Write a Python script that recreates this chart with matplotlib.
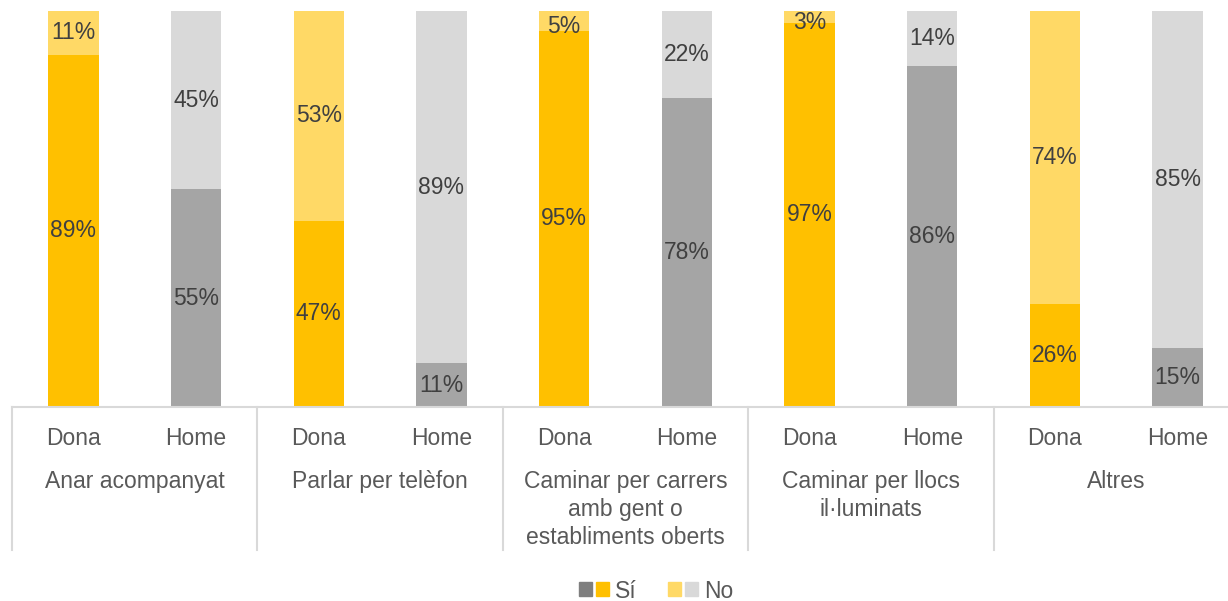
import matplotlib.pyplot as plt
from matplotlib.patches import Patch
from matplotlib.legend_handler import HandlerTuple
import numpy as np

plt.rcParams['font.family'] = ['Liberation Sans', 'DejaVu Sans']

groups = ["Anar acompanyat", "Parlar per telèfon",
          "Caminar per carrers\namb gent o\nestabliments oberts",
          "Caminar per llocs\nil·luminats", "Altres"]
sexes = ["Dona", "Home"]
si_dona = [89, 47, 95, 97, 26]
no_dona = [11, 53, 5, 3, 74]
si_home = [55, 11, 78, 86, 15]
no_home = [45, 89, 22, 14, 85]

c_si_dona, c_no_dona = "#FFC000", "#FFD966"
c_si_home, c_no_home = "#A5A5A5", "#D9D9D9"
txt = "#595959"
fs = 16.5

fig = plt.figure(figsize=(12.28, 6.01), dpi=100)
W, H = 1228, 601
ax = fig.add_axes([12 / W, (H - 407) / H, 1227 / W, 396 / H])

xd = np.arange(5) * 2
xh = xd + 1
bw = 0.41
ax.bar(xd, si_dona, bw, color=c_si_dona)
ax.bar(xd, no_dona, bw, bottom=si_dona, color=c_no_dona)
ax.bar(xh, si_home, bw, color=c_si_home)
ax.bar(xh, no_home, bw, bottom=si_home, color=c_no_home)

# data labels in the middle of each segment (tiny ones nudged down a bit)
for xs, a, b in [(xd, si_dona, no_dona), (xh, si_home, no_home)]:
    for x, s, n in zip(xs, a, b):
        ax.text(x, s / 2, f"{s}%", ha='center', va='center', fontsize=fs, color="#404040")
        ax.text(x, s + n / 2 - (1.5 if n < 8 else 0), f"{n}%", ha='center', va='center',
                fontsize=fs, color="#404040")

ax.set_xlim(-0.5, 9.5)
ax.set_ylim(0, 100)
for s in ['top', 'right', 'left']:
    ax.spines[s].set_visible(False)
ax.spines['bottom'].set_color("#D9D9D9")
ax.spines['bottom'].set_linewidth(1.5)
ax.set_yticks([])
ax.set_xticks(list(xd) + list(xh))
ax.set_xticklabels(["Dona"] * 5 + ["Home"] * 5)
ax.tick_params(axis='x', length=0, labelsize=fs, labelcolor=txt, pad=14.5)

# group separators + group names under the ticks
trans = ax.get_xaxis_transform()
ylow = -(550 - 407) / 396
for g in range(6):
    ax.plot([g * 2 - 0.5] * 2, [0, ylow], color="#D9D9D9", lw=1.5, transform=trans, clip_on=False)
for g, name in enumerate(groups):
    ax.text(g * 2 + 0.5, -(470 - 407) / 396, name, ha='center', va='top', fontsize=fs,
            color=txt, transform=trans, linespacing=1.27)

handles = [(Patch(color="#7F7F7F"), Patch(color=c_si_dona)),
           (Patch(color=c_no_dona), Patch(color=c_no_home))]
fig.legend(handles, ["Sí", "No"], handler_map={tuple: HandlerTuple(ndivide=None, pad=0.2)},
           loc='center', bbox_to_anchor=(656 / W, 1 - 591 / H), ncol=2, frameon=False,
           fontsize=fs, labelcolor=txt, handlelength=1.3, handleheight=0.55,
           handletextpad=0.25, columnspacing=1.4, borderpad=0.2)

fig.savefig("out.png", dpi=100)
